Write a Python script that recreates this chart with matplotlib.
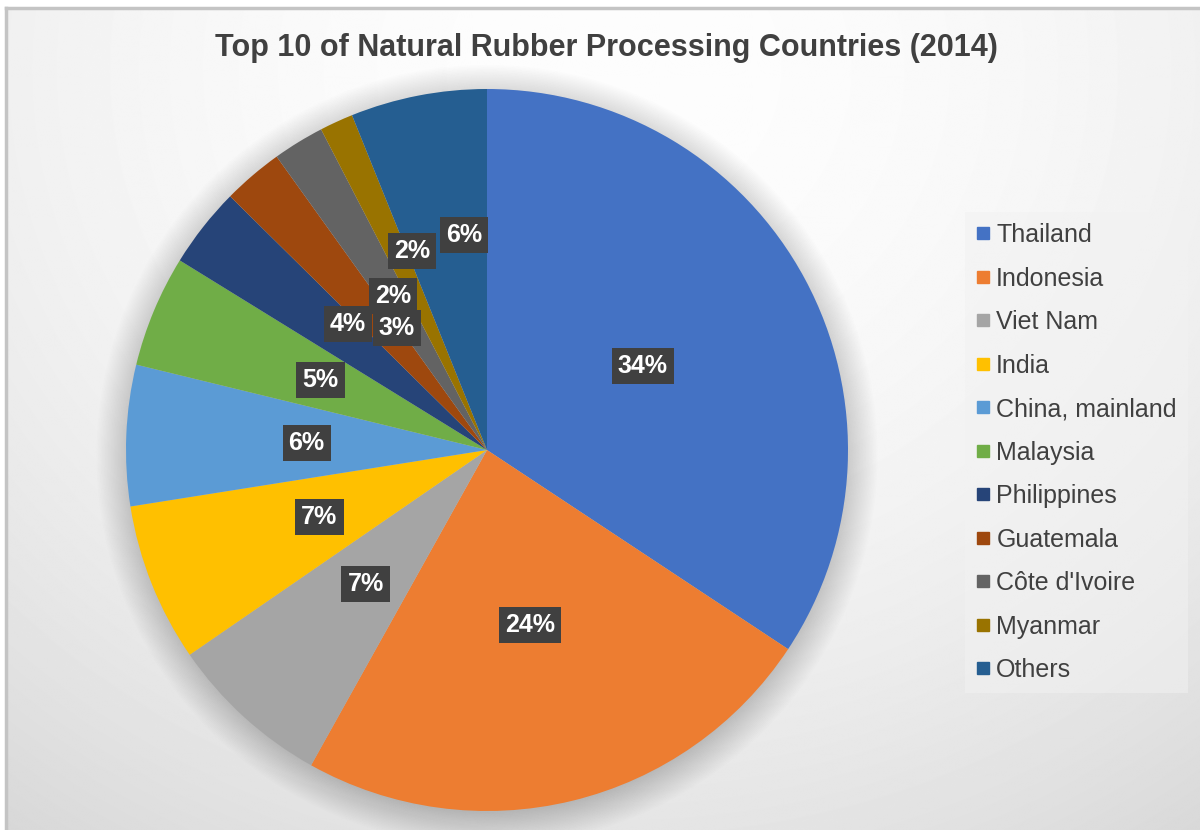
import numpy as np
import matplotlib
matplotlib.use("Agg")
import matplotlib.pyplot as plt
from matplotlib.lines import Line2D
from matplotlib.patches import Circle

plt.rcParams['font.family'] = ['Liberation Sans', 'DejaVu Sans']

TITLE = "Top 10 of Natural Rubber Processing Countries (2014)"

countries = ["Thailand", "Indonesia", "Viet Nam", "India", "China, mainland",
             "Malaysia", "Philippines", "Guatemala", "Côte d'Ivoire", "Myanmar",
             "Others"]
shares = [34.3, 23.8, 7.3, 7.1, 6.3, 5.0, 3.6, 2.7, 2.3, 1.5, 6.1]

colors = ["#4472C4", "#ED7D31", "#A5A5A5", "#FFC000", "#5B9BD5", "#70AD47",
          "#264478", "#9E480E", "#636363", "#997300", "#255E91"]

# label placement: fraction of radius, and nudge (degrees, clockwise) for crowded slices
label_r = [0.49, 0.50, 0.50, 0.50, 0.50, 0.50, 0.52, 0.42, 0.50, 0.59, 0.60]
label_nudge = [0, 0, 0, 0, 0, 0, 4, 4, 0, 4, 5]

W, H = 1200, 830
TEXT = "#404040"

fig = plt.figure(figsize=(W / 100, H / 100), dpi=100)

# background panel with soft radial shading
bg = fig.add_axes([0, 0, 1, 1])
bg.set_xlim(0, W)
bg.set_ylim(H, 0)
bg.axis("off")
yy, xx = np.mgrid[0:H, 0:W]
d2 = (xx - 600.0) ** 2 + (1.1 * (yy - 60.0)) ** 2
shade = np.clip(253 - 3.6e-5 * d2, 200, 255) / 255.0
bg.imshow(shade, cmap="gray", vmin=0, vmax=1, extent=(7, W + 20, H + 20, 9),
          interpolation="bilinear", zorder=0)
bg.plot([6, W + 5], [8, 8], color="#c4c4c4", lw=2.5, zorder=1)
bg.plot([6, 6], [8, H + 5], color="#c4c4c4", lw=2.5, zorder=1)

# pie axes: centre (487, 450), radius 361 px
cx, cy, R = 487, 450, 361
ax = fig.add_axes([(cx - R) / W, (H - cy - R) / H, 2 * R / W, 2 * R / H])
ax.set_xlim(-1, 1)
ax.set_ylim(-1, 1)
ax.axis("off")

# soft drop shadow behind the pie
for i in range(24):
    ax.add_patch(Circle((0, -0.015), 0.99 + 0.004 * i, color="black",
                        alpha=0.008, lw=0, clip_on=False, zorder=0))

wedges, _ = ax.pie(shares, colors=colors, startangle=90, counterclock=False,
                   radius=1.0, wedgeprops=dict(linewidth=0, zorder=2))
ax.set_xlim(-1, 1)
ax.set_ylim(-1, 1)

total = sum(shares)
for w, val, r, nudge in zip(wedges, shares, label_r, label_nudge):
    ang = np.deg2rad((w.theta1 + w.theta2) / 2 - nudge)
    ax.text(r * np.cos(ang), r * np.sin(ang), f"{val / total * 100:.0f}%",
            ha="center", va="center", color="white", fontsize=18,
            fontweight="bold", zorder=5,
            bbox=dict(boxstyle="square,pad=0.24", facecolor="#404040",
                      edgecolor="none"))

fig.text(606 / W, 1 - 48 / H, TITLE, ha="center", va="center",
         fontsize=22, fontweight="bold", color=TEXT)

handles = [Line2D([0], [0], marker="s", linestyle="none", markersize=9,
                  markerfacecolor=c, markeredgecolor=c) for c in colors]
leg = fig.legend(handles, countries, loc="upper left",
                 bbox_to_anchor=(965 / W, 1 - 212 / H),
                 fontsize=18, labelcolor=TEXT, frameon=True, fancybox=False,
                 handlelength=0.5, handletextpad=0.3, labelspacing=0.78,
                 borderpad=0.45, borderaxespad=0)
leg.get_frame().set_facecolor("#f2f2f2")
leg.get_frame().set_alpha(0.5)
leg.get_frame().set_edgecolor("none")

fig.savefig("out.png", dpi=100)
